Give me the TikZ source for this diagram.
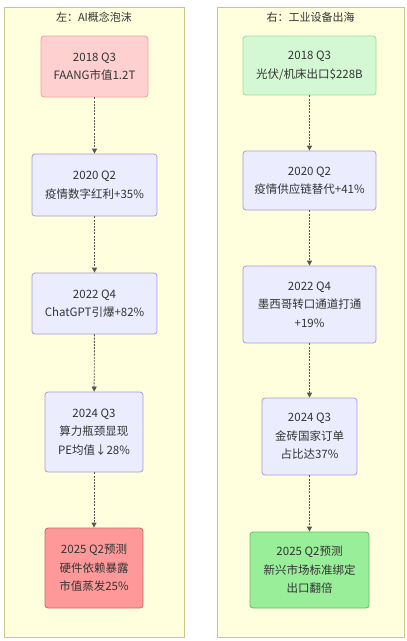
\documentclass[tikz,border=0pt]{standalone}
\usepackage{fontspec}
\setmainfont{Noto Sans CJK SC}
\usetikzlibrary{arrows.meta}
\definecolor{clfill}{HTML}{FFFFDE}
\definecolor{cldraw}{HTML}{C8C88A}
\definecolor{nfill}{HTML}{ECECFF}
\definecolor{ndraw}{HTML}{A89BD8}
\definecolor{pinkfill}{HTML}{FFD0D0}
\definecolor{pinkdraw}{HTML}{EEA0A0}
\definecolor{redfill}{HTML}{FF9999}
\definecolor{reddraw}{HTML}{CC6666}
\definecolor{gfill}{HTML}{D4F8D4}
\definecolor{gdraw}{HTML}{99DD99}
\definecolor{bgfill}{HTML}{99EE99}
\definecolor{bgdraw}{HTML}{66BB66}
\definecolor{txt}{HTML}{333333}
\definecolor{linec}{HTML}{555555}
\tikzset{
  cluster/.style={draw=cldraw, fill=clfill, line width=1pt},
  ctitle/.style={font=\fontsize{11}{13}\selectfont, text=txt},
  evbox/.style={draw=ndraw, fill=nfill, line width=0.8pt, rounded corners=3pt,
    align=center, inner sep=0pt, font=\fontsize{11.5}{18.5}\selectfont, text=txt},
  pinkbox/.style={evbox, draw=pinkdraw, fill=pinkfill},
  redbox/.style={evbox, draw=reddraw, fill=redfill},
  greenbox/.style={evbox, draw=gdraw, fill=gfill},
  bgreenbox/.style={evbox, draw=bgdraw, fill=bgfill},
  flow/.style={draw=linec, line width=0.9pt, dash pattern=on 2pt off 1.2pt, -{Triangle[length=5pt,width=5pt]}}
}
\begin{document}
\begin{tikzpicture}[x=1pt,y=-1pt]
\useasboundingbox (0,0) rectangle (407,641);
\fill[white] (0,0) rectangle (407,641);
% clusters
\draw[cluster] (4,7) rectangle (184,637);
\draw[cluster] (217,7) rectangle (404,637);
\node[ctitle] (tl) at (94,17) {左：AI概念泡沫};
\node[ctitle] (tr) at (310.5,17) {右：工业设备出海};
% left
\node[pinkbox, minimum width=107pt, minimum height=61pt] (L1) at (94.5,66.5) {2018 Q3\\FAANG市值1.2T};
\node[evbox, minimum width=125pt, minimum height=62pt] (L2) at (94.5,185) {2020 Q2\\疫情数字红利+35\%};
\node[evbox, minimum width=125pt, minimum height=61pt] (L3) at (94.5,303.5) {2022 Q4\\ChatGPT引爆+82\%};
\node[evbox, minimum width=98pt, minimum height=80pt] (L4) at (94,432) {2024 Q3\\算力瓶颈显现\\PE均值↓28\%};
\node[redbox, minimum width=98pt, minimum height=80pt] (L5) at (94,568) {2025 Q2预测\\硬件依赖暴露\\市值蒸发25\%};
% right
\node[greenbox, minimum width=133pt, minimum height=59pt] (R1) at (309.5,65.5) {2018 Q3\\光伏/机床出口\$228B};
\node[evbox, minimum width=133pt, minimum height=59pt] (R2) at (309.5,180.5) {2020 Q2\\疫情供应链替代+41\%};
\node[evbox, minimum width=133pt, minimum height=77pt] (R3) at (309.5,304.5) {2022 Q4\\墨西哥转口通道打通\\+19\%};
\node[evbox, minimum width=95pt, minimum height=77pt] (R4) at (309.5,436.5) {2024 Q3\\金砖国家订单\\占比达37\%};
\node[bgreenbox, minimum width=119pt, minimum height=76pt] (R5) at (309.5,570) {2025 Q2预测\\新兴市场标准绑定\\出口翻倍};
% flows
\draw[flow] (L1) -- (L2);
\draw[flow] (L2) -- (L3);
\draw[flow] (L3) -- (L4);
\draw[flow] (L4) -- (L5);
\draw[flow] (R1) -- (R2);
\draw[flow] (R2) -- (R3);
\draw[flow] (R3) -- (R4);
\draw[flow] (R4) -- (R5);
\end{tikzpicture}
\end{document}
